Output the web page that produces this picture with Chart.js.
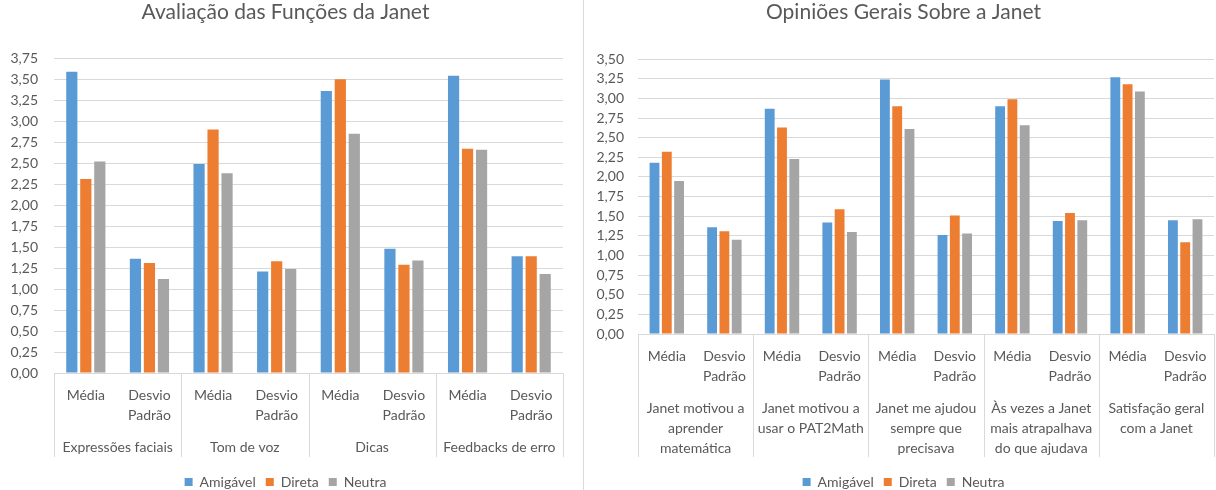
<!DOCTYPE html>
<html lang="pt-BR">
<head>
<meta charset="utf-8">
<title>Avaliação da Janet</title>
<script src="https://cdn.jsdelivr.net/npm/chart.js@4/dist/chart.umd.min.js"></script>
<style>
  html, body { margin: 0; padding: 0; background: #fff; overflow: hidden; }
  #wrap { position: relative; width: 1216px; height: 490px; overflow: hidden; }
  #leftBox { position: absolute; left: 0; top: 0; width: 580px; height: 499px; }
  #rightBox { position: absolute; left: 584px; top: 0; width: 632px; height: 499px; }
  #divider { position: absolute; left: 583px; top: 0; width: 1px; height: 490px; background: #d9d9d9; }
</style>
</head>
<body>
<div id="wrap">
  <div id="leftBox"><canvas id="leftChart"></canvas></div>
  <div id="divider"></div>
  <div id="rightBox"><canvas id="rightChart"></canvas></div>
</div>
<script>
// Series names and sub-measures shared by both charts
const seriesNames = ['Amigável', 'Direta', 'Neutra'];
const measureLabels = [['Média'], ['Desvio', 'Padrão']];

// Avaliação das Funções da Janet
const leftGroups = ['Expressões faciais', 'Tom de voz', 'Dicas', 'Feedbacks de erro'];
const leftAmigavel = [3.59, 1.36, 2.49, 1.21, 3.36, 1.48, 3.54, 1.39];
const leftDireta   = [2.31, 1.31, 2.90, 1.33, 3.50, 1.29, 2.67, 1.39];
const leftNeutra   = [2.52, 1.12, 2.38, 1.24, 2.85, 1.34, 2.66, 1.18];
const leftMax = 3.75;

// Opiniões Gerais Sobre a Janet
const rightGroups = [
  ['Janet motivou a', 'aprender', 'matemática'],
  ['Janet motivou a', 'usar o PAT2Math'],
  ['Janet me ajudou', 'sempre que', 'precisava'],
  ['Às vezes a Janet', 'mais atrapalhava', 'do que ajudava'],
  ['Satisfação geral', 'com a Janet']
];
const rightAmigavel = [2.18, 1.36, 2.87, 1.42, 3.24, 1.26, 2.90, 1.44, 3.27, 1.45];
const rightDireta   = [2.32, 1.31, 2.63, 1.59, 2.90, 1.51, 2.99, 1.54, 3.18, 1.17];
const rightNeutra   = [1.95, 1.20, 2.23, 1.30, 2.61, 1.28, 2.66, 1.45, 3.09, 1.46];
const rightMax = 3.5;

const seriesColors = ['#5B9BD5', '#ED7D31', '#A5A5A5'];
const textColor = '#595959';
const lineColor = '#d9d9d9';
const fontFamily = 'Lato, "Open Sans", sans-serif';

// Vertical separators between the outer category groups, spanning both label rows
const groupSeparators = {
  id: 'groupSeparators',
  afterDraw(chart, args, opts) {
    const x = chart.scales.x, x2 = chart.scales.x2;
    const groups = x2.getLabels().length;
    const ctx = chart.ctx;
    ctx.save();
    ctx.strokeStyle = lineColor;
    ctx.lineWidth = 1;
    for (let g = 0; g <= groups; g++) {
      const px = Math.round(x.left + g * x.width / groups) + 0.5;
      ctx.beginPath();
      ctx.moveTo(px, x.top);
      ctx.lineTo(px, x2.top + opts.depth);
      ctx.stroke();
    }
    ctx.restore();
  }
};

function makeChart(canvasId, opts) {
  const labels = [];
  opts.groups.forEach(() => measureLabels.forEach(m => labels.push(m)));
  const values = [opts.a, opts.d, opts.n];
  return new Chart(document.getElementById(canvasId), {
    type: 'bar',
    data: {
      labels,
      datasets: seriesNames.map((name, i) => ({
        label: name,
        data: values[i],
        backgroundColor: seriesColors[i],
        borderWidth: 0,
        categoryPercentage: opts.catPct,
        barPercentage: 0.8
      }))
    },
    options: {
      responsive: true,
      maintainAspectRatio: false,
      animation: false,
      layout: { padding: opts.padding },
      plugins: {
        title: {
          display: true,
          text: opts.title,
          color: textColor,
          font: { family: fontFamily, size: 21, weight: 'normal' },
          padding: { top: 0, bottom: opts.titleGap }
        },
        legend: {
          position: 'bottom',
          labels: {
            color: textColor,
            font: { family: fontFamily, size: 14 },
            boxWidth: 8,
            boxHeight: 8,
            padding: 10
          }
        },
        tooltip: { enabled: false },
        groupSeparators: { depth: opts.sepDepth }
      },
      scales: {
        y: {
          min: 0,
          max: opts.max,
          ticks: {
            stepSize: 0.25,
            autoSkip: false,
            color: textColor,
            padding: opts.yPad,
            font: { family: fontFamily, size: 14 },
            callback: v => v.toFixed(2).replace('.', ',')
          },
          grid: { color: lineColor, drawTicks: false },
          border: { display: false },
          afterFit: s => { s.width = opts.yWidth; }
        },
        x: {
          grid: { display: false },
          border: { color: lineColor },
          ticks: {
            color: textColor,
            font: { family: fontFamily, size: 14, lineHeight: 1.43 },
            maxRotation: 0,
            autoSkip: false,
            padding: 4
          },
          afterFit: s => { s.height = 56; }
        },
        x2: {
          type: 'category',
          position: 'bottom',
          labels: opts.groups,
          offset: true,
          grid: { display: false },
          border: { display: false },
          ticks: {
            color: textColor,
            font: { family: fontFamily, size: 14, lineHeight: 1.43 },
            maxRotation: 0,
            autoSkip: false,
            padding: 0
          },
          afterFit: s => { s.height = opts.x2Height; }
        }
      }
    },
    plugins: [groupSeparators]
  });
}

makeChart('leftChart', {
  title: 'Avaliação das Funções da Janet',
  groups: leftGroups,
  a: leftAmigavel, d: leftDireta, n: leftNeutra,
  max: leftMax,
  catPct: 0.66,
  padding: { left: 8, right: 17, top: 0, bottom: 0 },
  titleGap: 33,
  yWidth: 46,
  yPad: 16,
  x2Height: 36,
  sepDepth: 28
});

makeChart('rightChart', {
  title: 'Opiniões Gerais Sobre a Janet',
  groups: rightGroups,
  a: rightAmigavel, d: rightDireta, n: rightNeutra,
  max: rightMax,
  catPct: 0.64,
  padding: { left: 9, right: 2, top: 0, bottom: 0 },
  titleGap: 34,
  yWidth: 45,
  yPad: 14,
  x2Height: 75,
  sepDepth: 67
});
</script>
</body>
</html>
